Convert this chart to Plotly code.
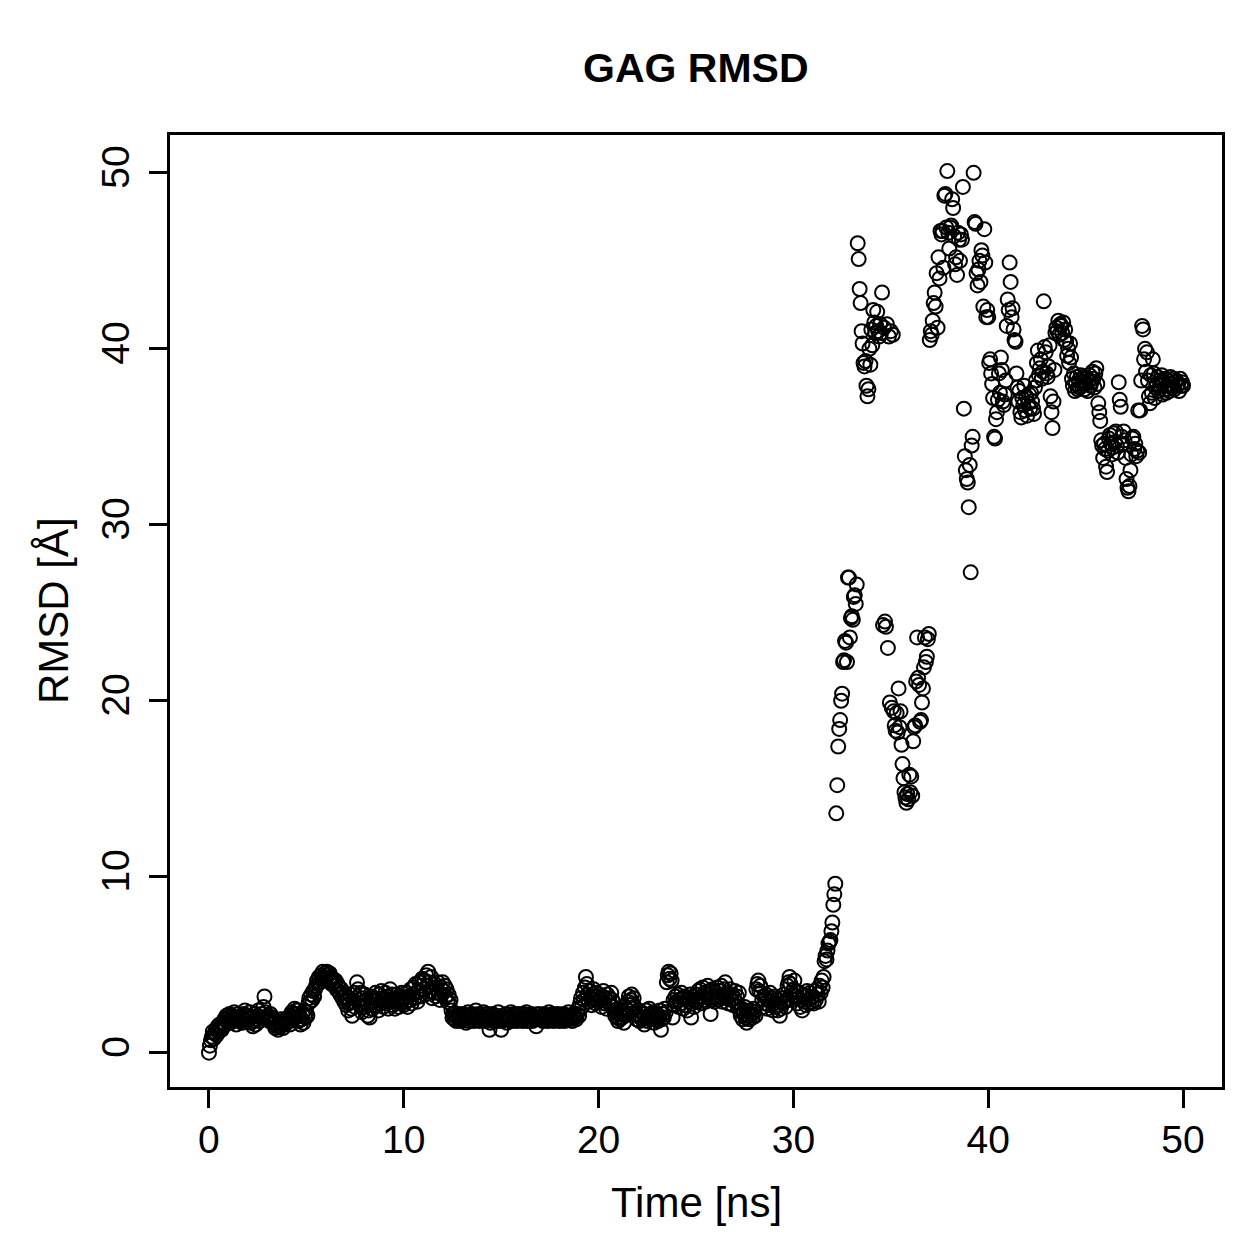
import numpy as np
import plotly.graph_objects as go

# RMSD values (Å), one frame every 0.05 ns
rmsd_00_10 = [
    0.0, 0.4, 0.7, 0.9, 1.2, 0.8, 1.1, 1.3, 1.0, 1.5, 1.2, 1.6, 1.4, 1.3, 1.7, 1.5, 1.9, 1.6, 2.1, 1.8,
    2.0, 2.2, 1.7, 1.9, 2.1, 1.8, 2.3, 2.0, 1.6, 1.9, 2.2, 2.0, 1.8, 2.1, 1.7, 1.9, 2.2, 2.4, 2.0, 1.8,
    2.1, 1.9, 2.3, 1.7, 2.0, 1.5, 1.8, 2.2, 1.6, 1.9, 2.1, 2.4, 1.8, 2.0, 2.2, 2.0, 2.6, 3.2, 2.3, 2.0,
    1.9, 2.1, 1.8, 2.2, 1.9, 2.0, 1.7, 1.6, 1.4, 1.8, 1.5, 1.3, 1.7, 1.5, 1.9, 1.6, 1.4, 1.8, 1.6, 1.9,
    1.7, 2.0, 1.8, 1.6, 2.1, 2.3, 1.9, 2.2, 2.5, 2.0, 2.4, 2.2, 1.8, 2.1, 1.6, 1.9, 2.2, 1.7, 2.4, 2.0,
    2.3, 2.1, 2.8, 3.1, 2.9, 3.3, 3.0, 3.5, 3.2, 3.6, 3.8, 4.1, 3.9, 4.3, 4.0, 4.4, 4.2, 4.6, 4.3, 4.5,
    4.2, 4.6, 4.4, 4.1, 4.5, 4.3, 3.9, 4.2, 4.0, 3.8, 4.1, 3.6, 3.9, 3.5, 3.7, 3.3, 3.6, 3.1, 3.4, 2.9,
    3.2, 2.7, 3.0, 2.4, 2.8, 3.3, 2.5, 2.1, 2.9, 3.4, 2.6, 3.1, 4.0, 3.6, 3.0, 2.7, 3.4, 2.3, 3.1, 2.9,
    3.3, 2.6, 3.0, 2.1, 2.4, 2.0, 2.8, 3.2, 2.5, 3.1, 2.9, 3.4, 2.7, 3.0, 2.4, 3.3, 2.8, 3.5, 3.1, 2.6,
    3.0, 3.4, 2.8, 3.2, 2.5, 3.0, 3.6, 2.9, 3.3, 2.7, 3.1, 2.5, 2.9, 3.3, 3.0, 2.6, 3.2, 2.8, 3.4, 3.0,
]
rmsd_10_20 = [
    2.7, 3.1, 2.9, 3.4, 2.6, 3.2, 3.0, 3.6, 2.8, 3.3, 3.7, 3.1, 3.9, 3.4, 2.9, 3.5, 4.0, 3.2, 3.8, 4.2,
    3.6, 4.1, 3.3, 4.4, 3.8, 4.6, 4.0, 3.5, 4.3, 3.1, 3.7, 3.4, 3.9, 3.2, 3.6, 4.0, 3.4, 3.0, 3.7, 3.3,
    4.0, 3.5, 3.8, 3.2, 3.6, 2.9, 3.3, 2.8, 3.0, 2.4, 2.0, 2.2, 1.9, 2.1, 1.8, 2.0, 2.2, 1.9, 2.1, 1.8,
    2.0, 2.2, 1.9, 2.1, 1.7, 2.0, 2.3, 1.8, 2.1, 1.9, 2.2, 2.0, 1.8, 2.1, 2.4, 1.9, 2.0, 2.2, 1.8, 2.0,
    2.1, 1.9, 2.3, 2.0, 1.8, 2.2, 1.9, 2.1, 1.3, 1.7, 2.0, 2.2, 1.8, 2.0, 1.9, 2.1, 1.8, 2.3, 2.0, 1.9,
    1.3, 1.8, 2.1, 1.9, 2.0, 2.2, 1.7, 2.0, 1.9, 2.1, 2.3, 1.8, 2.0, 2.2, 1.9, 2.1, 1.8, 2.0, 2.2, 1.9,
    2.0, 2.1, 1.8, 2.2, 1.9, 2.0, 2.3, 1.8, 2.1, 1.9, 2.0, 2.2, 1.8, 2.1, 1.9, 2.0, 1.5, 1.9, 2.2, 2.0,
    1.9, 2.1, 2.0, 1.8, 2.2, 1.9, 2.1, 2.0, 1.8, 2.3, 2.0, 1.9, 2.1, 2.2, 1.8, 2.0, 2.1, 1.9, 2.2, 2.0,
    1.8, 2.1, 1.9, 2.0, 2.2, 1.8, 2.1, 1.9, 2.0, 2.3, 1.9, 2.1, 2.0, 1.8, 2.2, 2.0, 2.1, 1.9, 2.2, 2.5,
    2.1, 2.8, 3.1, 2.6, 3.4, 3.0, 3.7, 4.3, 3.9, 3.3, 2.9, 3.5, 3.1, 2.7, 3.3, 3.6, 3.0, 2.8, 3.4, 3.2,
]
rmsd_20_30 = [
    2.9, 3.3, 3.0, 2.6, 3.2, 3.5, 2.8, 3.1, 2.5, 3.3, 2.9, 3.1, 2.7, 3.4, 3.0, 2.6, 2.4, 2.1, 2.3, 2.0,
    1.8, 2.2, 1.9, 2.4, 2.0, 2.3, 1.7, 2.1, 2.5, 2.2, 2.9, 3.2, 2.7, 3.0, 3.3, 2.8, 3.1, 2.6, 2.2, 1.9,
    2.1, 2.4, 1.8, 2.0, 2.3, 1.9, 2.2, 1.6, 2.0, 2.4, 1.8, 2.1, 2.5, 1.9, 2.2, 2.0, 2.3, 1.7, 2.1, 1.9,
    2.2, 1.8, 2.0, 2.4, 1.3, 1.9, 2.2, 2.0, 2.5, 2.3, 4.0, 4.4, 4.6, 4.2, 4.5, 4.1, 2.0, 3.0, 2.7, 3.2,
    2.9, 3.3, 2.6, 3.0, 2.8, 3.4, 3.1, 2.5, 3.2, 2.7, 3.0, 2.4, 3.1, 2.9, 3.3, 2.0, 2.8, 3.2, 2.6, 3.0,
    3.3, 2.9, 3.5, 3.1, 3.6, 2.8, 3.2, 3.7, 3.0, 3.4, 2.9, 3.3, 3.8, 3.1, 3.5, 2.2, 3.0, 3.6, 3.2, 2.9,
    3.4, 3.1, 3.7, 3.0, 3.5, 3.2, 3.8, 2.9, 3.3, 3.6, 4.0, 3.1, 3.4, 2.8, 3.2, 3.6, 3.0, 3.3, 2.7, 3.1,
    3.5, 2.9, 3.2, 2.6, 3.4, 2.4, 2.1, 2.5, 1.9, 2.2, 2.6, 2.0, 1.7, 2.3, 2.1, 1.9, 2.4, 2.2, 2.0, 2.5,
    2.3, 2.1, 3.6, 3.9, 4.1, 3.5, 3.8, 3.4, 3.0, 2.6, 3.2, 2.8, 3.3, 2.5, 3.0, 2.7, 3.4, 2.9, 3.1, 2.4,
    2.8, 3.2, 2.6, 3.0, 2.4, 2.7, 2.1, 2.5, 3.1, 2.8, 3.3, 2.9, 2.6, 3.0, 3.8, 4.0, 4.3, 3.9, 3.4, 3.0,
]
rmsd_30_40 = [
    3.6, 4.1, 3.2, 3.5, 2.8, 3.1, 3.4, 2.6, 3.0, 2.4, 3.3, 2.9, 3.2, 2.7, 3.5, 3.0, 2.8, 3.4, 3.1, 2.9,
    3.2, 2.8, 3.5, 3.0, 3.6, 3.3, 2.9, 3.8, 3.4, 4.1, 3.7, 4.3, 5.2, 5.5, 5.3, 5.8, 6.2, 6.3, 6.4, 6.9,
    7.4, 8.4, 9.0, 9.6, 13.6, 15.2, 17.4, 18.4, 18.9, 20.0, 20.4, 22.2, 22.3, 23.4, 23.3, 22.2, 27.0, 27.0, 23.6, 24.7,
    24.8, 24.6, 25.9, 26.0, 25.5, 26.6, 46.0, 45.1, 43.4, 42.6, 41.0, 40.3, 39.2, 39.0, 39.3, 37.9, 37.3, 37.7, 40.0, 39.1,
    41.1, 40.2, 42.2, 41.5, 40.9, 41.3, 42.1, 41.0, 40.7, 41.4, 40.9, 43.2, 24.3, 41.2, 24.5, 24.2, 41.4, 23.0, 40.7, 19.9,
    41.0, 19.6, 40.8, 19.4, 18.6, 18.3, 19.3, 18.2, 20.7, 18.5, 19.4, 17.5, 16.4, 15.6, 14.8, 14.5, 14.2, 14.7, 14.4, 15.8,
    14.8, 15.7, 14.6, 17.7, 18.5, 18.6, 21.1, 23.6, 21.3, 20.9, 18.8, 18.9, 19.9, 20.7, 21.9, 23.6, 22.2, 22.5, 23.5, 23.8,
    40.5, 41.0, 40.8, 41.6, 42.6, 43.2, 42.4, 44.3, 41.2, 45.2, 44.0, 46.7, 46.5, 46.7, 44.6, 48.7, 48.8, 46.9, 50.1, 46.6,
    45.7, 46.9, 47.0, 48.5, 48.0, 46.4, 44.8, 45.2, 44.2, 46.6, 46.2, 45.0, 46.5, 46.2, 49.2, 36.6, 33.9, 33.1, 32.6, 32.4,
    31.0, 33.4, 27.3, 34.5, 35.0, 50.0, 47.2, 47.1, 44.3, 43.6, 44.5, 45.0, 43.8, 45.6, 45.3, 42.4, 46.8, 44.9, 41.8, 42.2,
]
rmsd_40_50 = [
    41.8, 39.2, 39.4, 38.6, 38.0, 37.2, 35.0, 34.9, 36.0, 36.4, 37.1, 38.6, 37.5, 39.5, 38.8, 37.0, 36.8, 37.4, 38.2, 41.3,
    42.8, 42.2, 44.9, 43.8, 41.8, 42.3, 41.1, 40.5, 40.4, 38.6, 37.8, 37.0, 37.6, 36.4, 36.1, 37.2, 36.8, 37.9, 36.5, 37.3,
    36.2, 36.9, 37.4, 36.6, 37.5, 37.0, 36.6, 36.3, 37.8, 38.2, 39.2, 39.9, 38.5, 38.9, 39.4, 38.3, 38.7, 42.7, 40.1, 39.8,
    38.6, 38.4, 39.0, 40.2, 37.3, 36.4, 35.5, 37.0, 38.8, 40.9, 41.2, 41.0, 41.6, 40.8, 41.4, 41.3, 40.9, 41.5, 40.5, 41.1,
    40.4, 39.6, 40.0, 39.2, 40.3, 39.5, 38.3, 37.9, 38.6, 37.6, 38.0, 38.4, 37.7, 38.2, 37.8, 38.5, 37.9, 38.1, 38.4, 37.7,
    38.0, 38.3, 37.6, 38.2, 38.5, 37.9, 38.1, 38.7, 38.3, 37.8, 38.6, 38.9, 38.0, 36.9, 36.4, 35.9, 34.8, 34.5, 33.8, 34.6,
    34.3, 33.3, 33.0, 34.2, 34.9, 35.1, 34.6, 34.0, 34.4, 35.2, 34.7, 35.3, 34.5, 34.1, 38.1, 37.1, 36.7, 35.0, 34.6, 35.3,
    34.8, 33.8, 32.6, 32.1, 31.9, 32.2, 33.1, 34.0, 34.9, 35.0, 34.3, 34.6, 33.9, 34.2, 36.5, 34.1, 36.5, 38.2, 41.3, 41.1,
    39.4, 40.0, 38.7, 39.8, 38.2, 37.3, 36.9, 38.5, 37.5, 39.4, 38.6, 37.2, 37.8, 38.0, 38.4, 37.6, 38.2, 37.9, 38.5, 37.4,
    38.1, 37.7, 38.3, 37.5, 37.9, 38.2, 37.6, 38.4, 38.0, 37.8, 38.3, 37.7, 38.1, 38.2, 37.9, 38.0, 37.6, 38.3, 37.9, 38.1,
    37.9,
]

frame_step_ns = 0.05
rmsd = rmsd_00_10 + rmsd_10_20 + rmsd_20_30 + rmsd_30_40 + rmsd_40_50
time_ns = np.arange(len(rmsd)) * frame_step_ns

x_ticks = [0, 10, 20, 30, 40, 50]
y_ticks = [0, 10, 20, 30, 40, 50]

title_text = "GAG RMSD"
x_title = "Time [ns]"
y_title = "RMSD [Å]"

FONT = "Liberation Sans, Arial, Helvetica, sans-serif"

fig = go.Figure()
fig.add_trace(go.Scatter(
    x=time_ns, y=rmsd, mode="markers",
    marker=dict(symbol="circle-open", size=14, color="black",
                line=dict(color="black", width=2)),
    showlegend=False, hoverinfo="x+y",
))

axis_common = dict(
    showline=True, linecolor="black", linewidth=3, mirror=True,
    ticks="outside", ticklen=18, tickwidth=3, tickcolor="black",
    showgrid=False, zeroline=False,
    tickfont=dict(family=FONT, size=39, color="black"),
)

fig.update_layout(
    width=1259, height=1259,
    margin=dict(l=170, r=37, t=135, b=172),
    paper_bgcolor="white", plot_bgcolor="white",
    font=dict(family=FONT, color="black"),
    xaxis=dict(range=[-2.0, 52.0], tickvals=x_ticks, ticklabelstandoff=-2, **axis_common),
    yaxis=dict(range=[-1.95, 52.15], tickvals=y_ticks, tickangle=-90, ticklabelstandoff=4, **axis_common),
    annotations=[
        dict(text="<b>" + title_text + "</b>", xref="paper", yref="paper", x=0.5, y=1,
             xanchor="center", yanchor="middle", yshift=67, showarrow=False,
             font=dict(family=FONT, size=41, color="black")),
        dict(text=x_title, xref="paper", yref="paper", x=0.5, y=0,
             xanchor="center", yanchor="middle", yshift=-115, showarrow=False,
             font=dict(family=FONT, size=42, color="black")),
        dict(text=y_title, xref="paper", yref="paper", x=0, y=0.5,
             xanchor="center", yanchor="middle", xshift=-117, textangle=-90, showarrow=False,
             font=dict(family=FONT, size=42, color="black")),
    ],
)

fig.write_html("out.html")
